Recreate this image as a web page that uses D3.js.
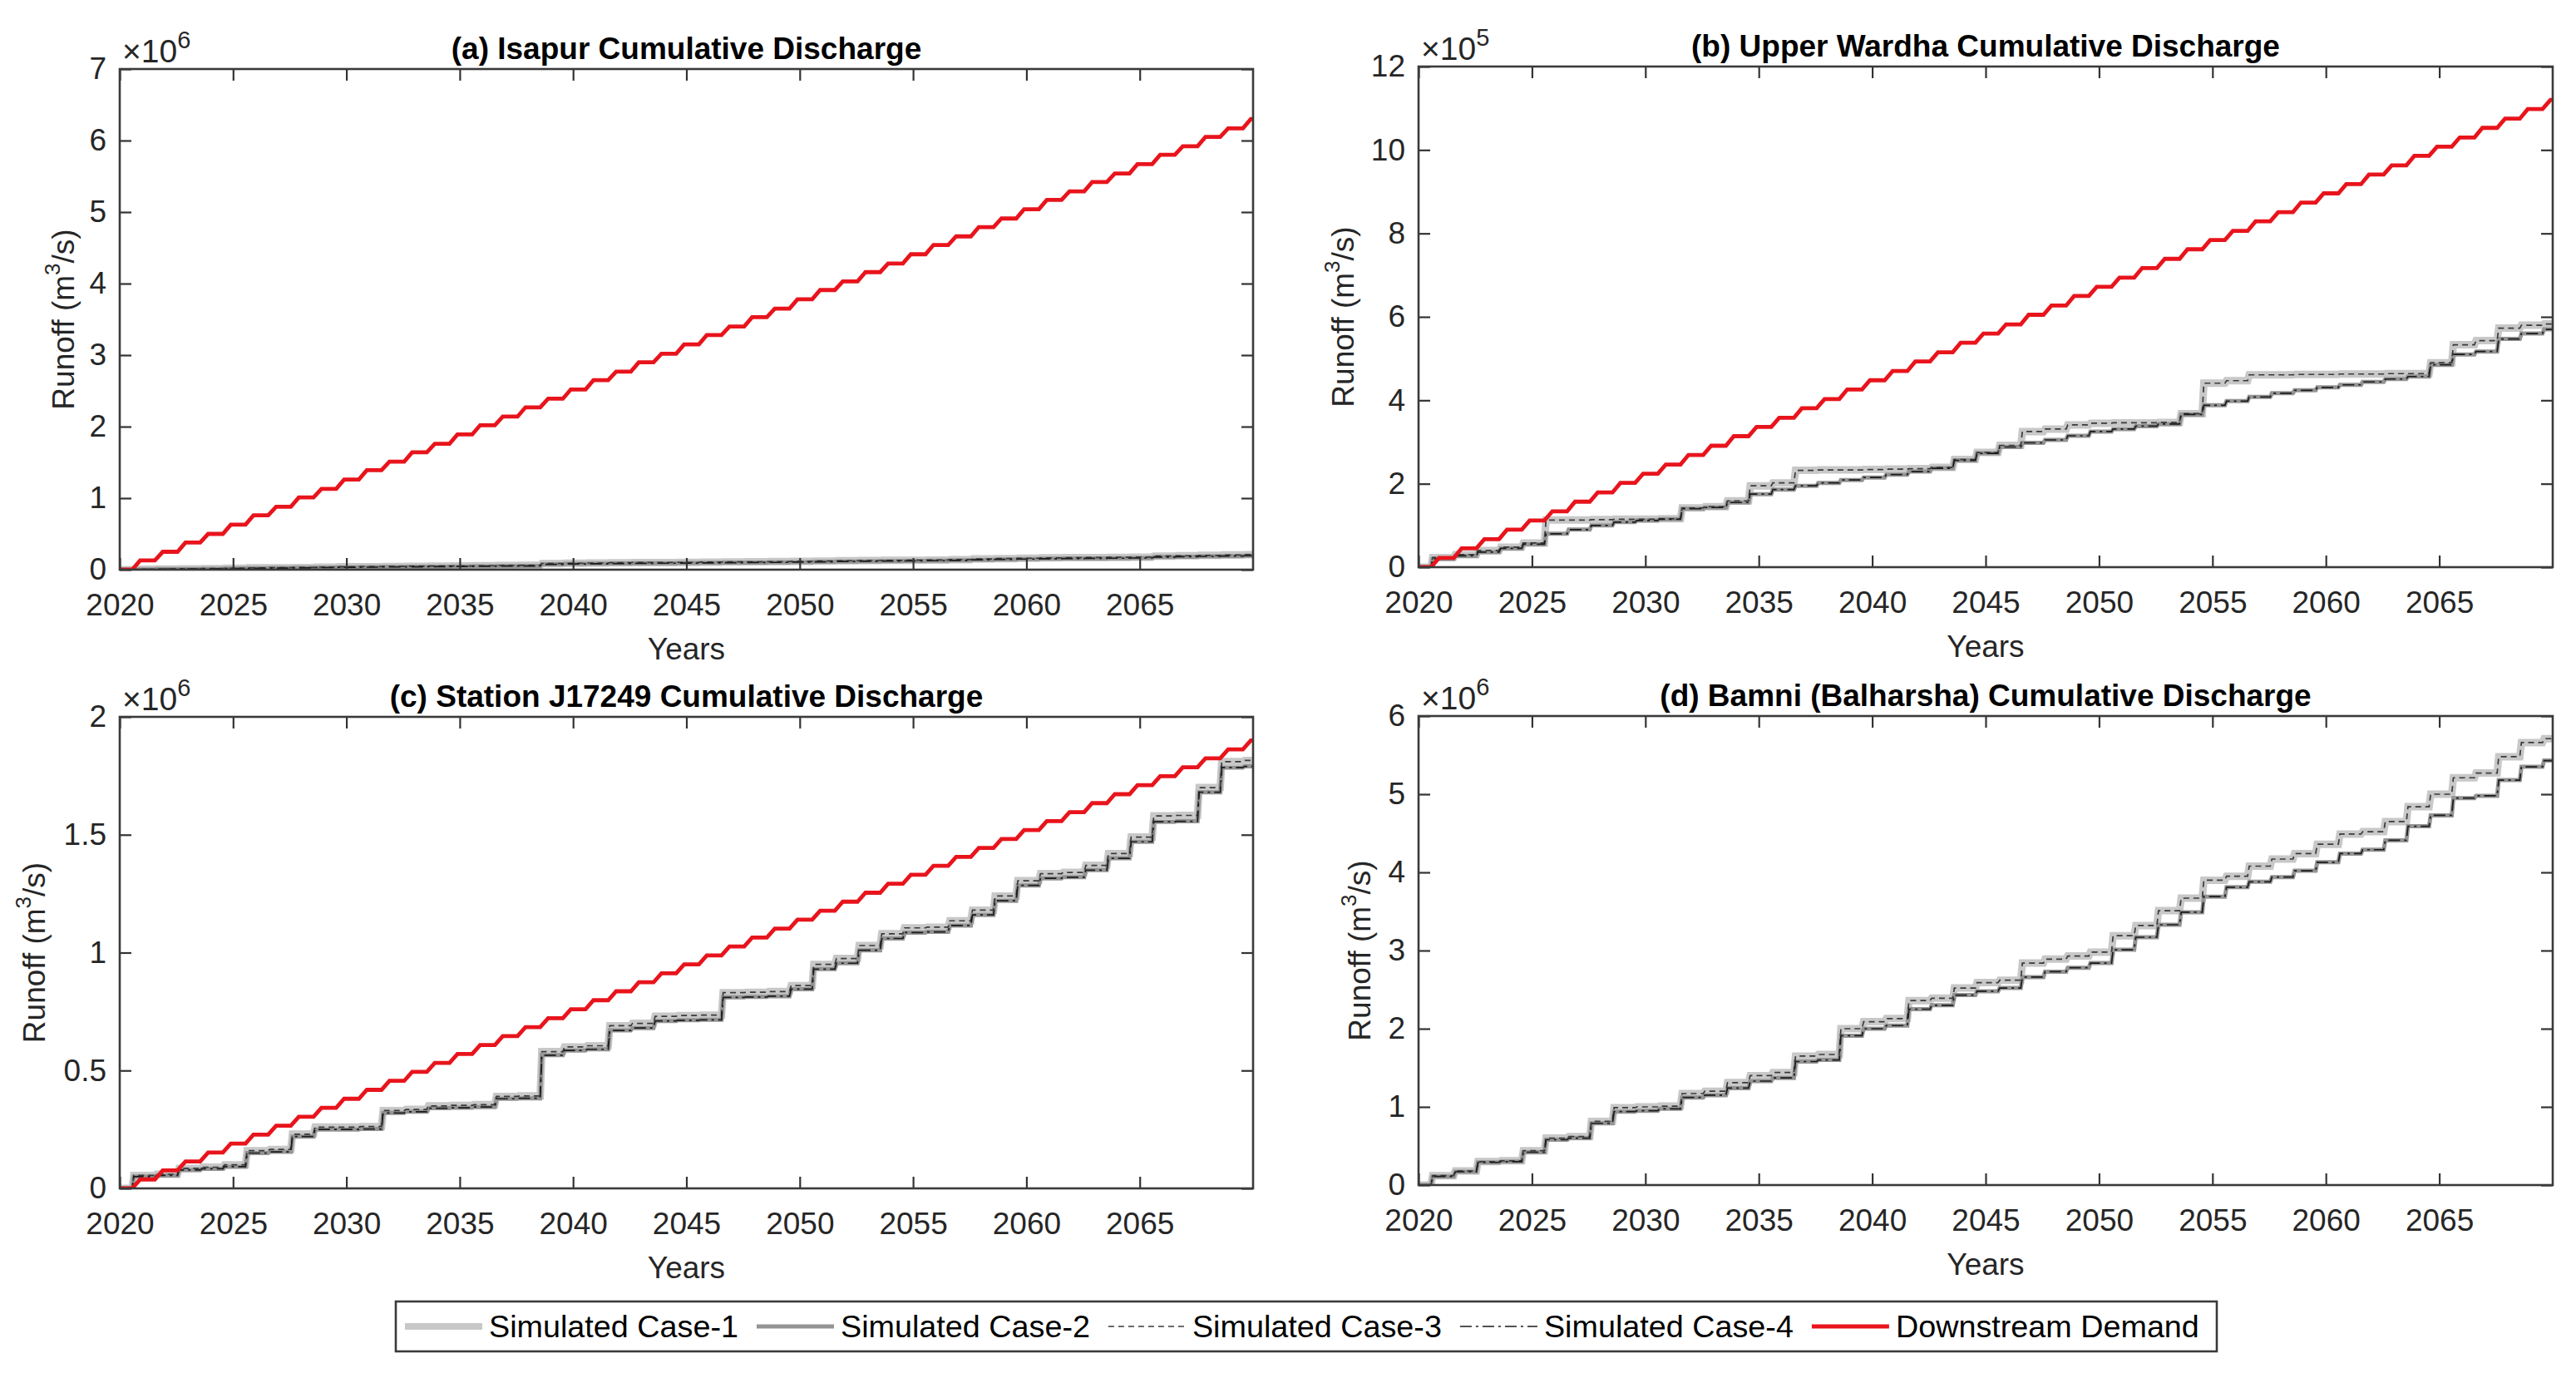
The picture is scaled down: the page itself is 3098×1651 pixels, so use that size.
<!DOCTYPE html>
<html>
<head>
<meta charset="utf-8">
<script src="https://cdn.jsdelivr.net/npm/d3@7"></script>
<style>
  html, body { margin: 0; padding: 0; background: #ffffff; }
  svg { display: block; }
  text { font-family: "Liberation Sans", Arial, Helvetica, sans-serif; }
</style>
</head>
<body>
<svg id="chart" width="3098" height="1651"></svg>
<script>
// ---------------- DATA ----------------
// Each series: cumulative runoff reached after the annual rise of years 2020..2069
// (values in the units shown on each panel's axis, i.e. divided by the ×10^n multiplier)
const riseYears = d3.range(2020, 2070);
const xTickYears = [2020, 2025, 2030, 2035, 2040, 2045, 2050, 2055, 2060, 2065];

const seriesNames = ["Simulated Case-1", "Simulated Case-2", "Simulated Case-3", "Simulated Case-4", "Downstream Demand"];
const panelTitles = ["(a) Isapur Cumulative Discharge", "(b) Upper Wardha Cumulative Discharge",
                     "(c) Station J17249 Cumulative Discharge", "(d) Bamni (Balharsha) Cumulative Discharge"];
const yAxisLabel = "Runoff (m";
const xAxisLabel = "Years";

// (a) Isapur, ×10^6
const isapurTicks = [0, 1, 2, 3, 4, 5, 6, 7];
const isapurExp = 6;
const isapurSimA = [0.005,0.01,0.012,0.015,0.02,0.025,0.027,0.03,0.035,0.04,
  0.042,0.045,0.047,0.05,0.052,0.055,0.058,0.06,0.085,0.09,
  0.093,0.097,0.1,0.1,0.102,0.105,0.108,0.11,0.112,0.115,
  0.12,0.125,0.128,0.13,0.132,0.135,0.14,0.15,0.155,0.16,
  0.165,0.168,0.17,0.172,0.175,0.19,0.195,0.2,0.205,0.21];
const isapurSimB = [0.004,0.008,0.01,0.012,0.016,0.02,0.022,0.025,0.029,0.033,
  0.035,0.038,0.04,0.042,0.044,0.047,0.05,0.052,0.075,0.08,
  0.083,0.086,0.089,0.09,0.092,0.095,0.098,0.1,0.102,0.105,
  0.11,0.114,0.117,0.12,0.122,0.125,0.13,0.138,0.143,0.148,
  0.153,0.156,0.158,0.16,0.163,0.176,0.181,0.186,0.19,0.195];
const isapurDemand = [0.13,0.25,0.38,0.50,0.63,0.76,0.88,1.01,1.13,1.26,
  1.39,1.51,1.64,1.76,1.89,2.02,2.14,2.27,2.39,2.52,
  2.65,2.77,2.90,3.02,3.15,3.28,3.40,3.53,3.65,3.78,
  3.91,4.03,4.16,4.28,4.41,4.54,4.66,4.79,4.91,5.04,
  5.17,5.29,5.42,5.54,5.67,5.80,5.92,6.05,6.17,6.30];

// (b) Upper Wardha, ×10^5
const wardhaTicks = [0, 2, 4, 6, 8, 10, 12];
const wardhaExp = 5;
const wardhaSimA = [0.23,0.3,0.4,0.48,0.58,1.13,1.13,1.14,1.15,1.15,
  1.16,1.42,1.45,1.59,1.95,2.02,2.32,2.33,2.33,2.34,
  2.35,2.36,2.39,2.58,2.75,2.92,3.25,3.31,3.41,3.45,
  3.46,3.46,3.47,3.68,4.41,4.47,4.61,4.61,4.62,4.62,
  4.63,4.63,4.64,4.64,4.9,5.33,5.43,5.73,5.8,5.83];
const wardhaSimB = [0.2,0.27,0.36,0.45,0.55,0.8,0.9,1.0,1.08,1.12,
  1.15,1.4,1.43,1.55,1.75,1.86,1.95,2.02,2.09,2.15,
  2.22,2.29,2.37,2.56,2.73,2.88,2.98,3.05,3.15,3.25,
  3.31,3.38,3.43,3.66,3.88,3.98,4.08,4.17,4.24,4.31,
  4.37,4.44,4.51,4.57,4.85,5.1,5.17,5.47,5.6,5.7];
const wardhaDemand = [0.22,0.45,0.67,0.90,1.12,1.34,1.57,1.79,2.02,2.24,
  2.46,2.69,2.91,3.14,3.36,3.58,3.81,4.03,4.26,4.48,
  4.70,4.93,5.15,5.38,5.60,5.82,6.05,6.27,6.50,6.72,
  6.94,7.17,7.39,7.62,7.84,8.06,8.29,8.51,8.74,8.96,
  9.18,9.41,9.63,9.86,10.08,10.30,10.53,10.75,10.98,11.20];

// (c) Station J17249, ×10^6
const stationTicks = [0, 0.5, 1, 1.5, 2];
const stationExp = 6;
const stationSimA = [0.055,0.06,0.085,0.09,0.10,0.16,0.165,0.23,0.26,0.26,
  0.262,0.33,0.335,0.35,0.352,0.355,0.39,0.392,0.58,0.60,
  0.605,0.69,0.70,0.73,0.733,0.735,0.83,0.832,0.835,0.86,
  0.95,0.975,1.03,1.08,1.105,1.108,1.135,1.18,1.24,1.305,
  1.335,1.34,1.37,1.42,1.49,1.58,1.582,1.70,1.81,1.815];
const stationSimB = [0.05,0.055,0.078,0.083,0.092,0.15,0.155,0.22,0.25,0.25,
  0.252,0.32,0.325,0.34,0.342,0.345,0.38,0.382,0.565,0.585,
  0.59,0.67,0.68,0.71,0.713,0.715,0.81,0.812,0.815,0.845,
  0.93,0.955,1.01,1.06,1.085,1.088,1.115,1.16,1.22,1.285,
  1.315,1.32,1.35,1.40,1.47,1.555,1.557,1.68,1.785,1.79];
const stationDemand = [0.038,0.076,0.114,0.152,0.19,0.228,0.266,0.304,0.342,0.38,
  0.418,0.456,0.494,0.532,0.57,0.608,0.646,0.684,0.722,0.76,
  0.798,0.836,0.874,0.912,0.95,0.988,1.026,1.064,1.102,1.14,
  1.178,1.216,1.254,1.292,1.33,1.368,1.406,1.444,1.482,1.52,
  1.558,1.596,1.634,1.672,1.71,1.748,1.786,1.824,1.862,1.90];

// (d) Bamni (Balharsha), ×10^6
const bamniTicks = [0, 1, 2, 3, 4, 5, 6];
const bamniExp = 6;
const bamniSimA = [0.12,0.18,0.30,0.31,0.44,0.60,0.62,0.815,0.99,1.0,
  1.01,1.17,1.2,1.31,1.40,1.44,1.65,1.67,2.0,2.09,
  2.13,2.36,2.39,2.52,2.59,2.62,2.84,2.89,2.93,2.98,
  3.19,3.32,3.51,3.67,3.9,3.95,4.08,4.17,4.24,4.36,
  4.49,4.52,4.65,4.84,5.0,5.21,5.27,5.48,5.66,5.71];
const bamniSimB = [0.11,0.17,0.29,0.30,0.42,0.58,0.60,0.79,0.94,0.95,
  0.975,1.12,1.15,1.24,1.33,1.37,1.58,1.60,1.91,2.0,
  2.04,2.25,2.3,2.43,2.48,2.52,2.66,2.73,2.78,2.84,
  3.01,3.17,3.33,3.49,3.69,3.81,3.88,3.94,4.02,4.13,
  4.24,4.29,4.41,4.59,4.73,4.95,4.98,5.18,5.35,5.43];

// ---------------- LAYOUT / STYLE ----------------
const FS = 37;
const styles = [
  { stroke: "#c8c8c8", width: 9,   dash: null },          // Case-1
  { stroke: "#949494", width: 5,   dash: null },          // Case-2
  { stroke: "#3a3a3a", width: 1.7, dash: "7 5" },         // Case-3
  { stroke: "#1a1a1a", width: 1.7, dash: "14 5 3 5" },    // Case-4
  { stroke: "#e8141c", width: 4.8, dash: null }           // Demand
];

const panels = [
  { title: panelTitles[0], box: [144, 1507, 83, 685],  ticks: isapurTicks, exp: isapurExp,
    series: [isapurSimA, isapurSimB, isapurSimA, isapurSimB, isapurDemand], ylabX: 79 },
  { title: panelTitles[1], box: [1706, 3070, 80, 682], ticks: wardhaTicks, exp: wardhaExp,
    series: [wardhaSimA, wardhaSimB, wardhaSimA, wardhaSimB, wardhaDemand], ylabX: 1618 },
  { title: panelTitles[2], box: [144, 1507, 862, 1429], ticks: stationTicks, exp: stationExp,
    series: [stationSimA, stationSimB, stationSimA, stationSimB, stationDemand], ylabX: 44 },
  { title: panelTitles[3], box: [1706, 3070, 861, 1425], ticks: bamniTicks, exp: bamniExp,
    series: [bamniSimA, bamniSimB, bamniSimA, bamniSimB, null], ylabX: 1638 }
];

const svg = d3.select("#chart");
svg.append("rect").attr("width", 3098).attr("height", 1651).attr("fill", "#fff");

// build stair-step points: flat, then rise during the wet season of each year
function stepPoints(vals, riseStart, riseEnd) {
  const pts = [[2020, 0]];
  let prev = 0;
  vals.forEach((v, i) => {
    const yr = riseYears[i];
    pts.push([yr + riseStart, prev]);
    pts.push([yr + riseEnd, v]);
    prev = v;
  });
  pts.push([2070, prev]);
  return pts;
}

panels.forEach((p, pi) => {
  const [x0, x1, y0, y1] = p.box;
  const x = d3.scaleLinear().domain([2020, 2070]).range([x0, x1]);
  const y = d3.scaleLinear().domain([0, p.ticks[p.ticks.length - 1]]).range([y1, y0]);
  const g = svg.append("g");

  const clipId = "clip" + pi;
  svg.append("clipPath").attr("id", clipId)
    .append("rect").attr("x", x0).attr("y", y0).attr("width", x1 - x0).attr("height", y1 - y0);

  const line = d3.line().x(d => x(d[0])).y(d => y(d[1]));
  const lines = g.append("g").attr("clip-path", `url(#${clipId})`);
  p.series.forEach((s, si) => {
    if (!s) return;
    const st = styles[si];
    const pts = si === 4 ? stepPoints(s, 0.55, 0.9) : stepPoints(s, 0.55, 0.62);
    lines.append("path").datum(pts)
      .attr("d", line)
      .attr("fill", "none")
      .attr("stroke", st.stroke)
      .attr("stroke-width", st.width)
      .attr("stroke-linejoin", "miter")
      .attr("stroke-dasharray", st.dash);
  });

  // axes (ticks inward, mirrored)
  const tickFmt = d => String(d);
  const axB = g.append("g").attr("transform", `translate(0,${y1})`)
    .call(d3.axisBottom(x).tickValues(xTickYears).tickSizeInner(-14).tickSizeOuter(0)
      .tickPadding(29).tickFormat(d3.format("d")));
  const axT = g.append("g").attr("transform", `translate(0,${y0})`)
    .call(d3.axisTop(x).tickValues(xTickYears).tickSizeInner(-14).tickSizeOuter(0).tickFormat(""));
  const axL = g.append("g").attr("transform", `translate(${x0},0)`)
    .call(d3.axisLeft(y).tickValues(p.ticks).tickSizeInner(-14).tickSizeOuter(0)
      .tickPadding(16).tickFormat(tickFmt));
  const axR = g.append("g").attr("transform", `translate(${x1},0)`)
    .call(d3.axisRight(y).tickValues(p.ticks).tickSizeInner(-14).tickSizeOuter(0).tickFormat(""));
  [axB, axT, axL, axR].forEach(a => {
    a.select(".domain").remove();
    a.selectAll(".tick line").attr("stroke", "#333").attr("stroke-width", 2.2);
    a.selectAll(".tick text").attr("fill", "#262626").attr("font-size", FS).attr("font-family", null);
  });

  g.append("rect").attr("x", x0).attr("y", y0).attr("width", x1 - x0).attr("height", y1 - y0)
    .attr("fill", "none").attr("stroke", "#3a3a3a").attr("stroke-width", 2.6);

  // title
  g.append("text").attr("x", (x0 + x1) / 2).attr("y", y0 - 12)
    .attr("text-anchor", "middle").attr("font-weight", "bold").attr("font-size", FS)
    .attr("fill", "#000").text(p.title);

  // exponent
  const ex = g.append("text").attr("x", x0 + 3).attr("y", y0 - 8)
    .attr("font-size", FS + 2).attr("fill", "#262626");
  ex.append("tspan").text("\u00d710");
  ex.append("tspan").attr("dy", -17).attr("font-size", FS - 8).text(p.exp);

  // x label
  g.append("text").attr("x", (x0 + x1) / 2).attr("y", y1 + 108)
    .attr("text-anchor", "middle").attr("font-size", FS).attr("fill", "#262626").text(xAxisLabel);

  // y label
  const yl = g.append("text")
    .attr("transform", `translate(${p.ylabX},${(y0 + y1) / 2}) rotate(-90)`)
    .attr("text-anchor", "middle").attr("dominant-baseline", "middle")
    .attr("font-size", FS).attr("fill", "#262626");
  yl.append("tspan").text(yAxisLabel);
  yl.append("tspan").attr("dy", -14).attr("font-size", FS - 11).text("3");
  yl.append("tspan").attr("dy", 14).text("/s)");
});

// ---------------- LEGEND ----------------
const leg = svg.append("g");
const legBox = { x: 476, y: 1565, w: 2190, h: 60 };
leg.append("rect").attr("x", legBox.x).attr("y", legBox.y).attr("width", legBox.w).attr("height", legBox.h)
  .attr("fill", "#fff").attr("stroke", "#3a3a3a").attr("stroke-width", 2.6);
let cx = 487;
const ly = legBox.y + legBox.h / 2;
seriesNames.forEach((name, i) => {
  const st = styles[i];
  leg.append("line").attr("x1", cx).attr("x2", cx + 93).attr("y1", ly).attr("y2", ly)
    .attr("stroke", st.stroke).attr("stroke-width", i === 0 ? 8 : st.width)
    .attr("stroke-dasharray", st.dash);
  const t = leg.append("text").attr("x", cx + 101).attr("y", ly)
    .attr("dominant-baseline", "central").attr("font-size", FS).attr("fill", "#000")
    .text(name);
  const w = t.node().getComputedTextLength();
  t.attr("textLength", w * 1.02).attr("lengthAdjust", "spacingAndGlyphs");
  cx = cx + 101 + w * 1.02 + 22;
});
</script>
</body>
</html>
